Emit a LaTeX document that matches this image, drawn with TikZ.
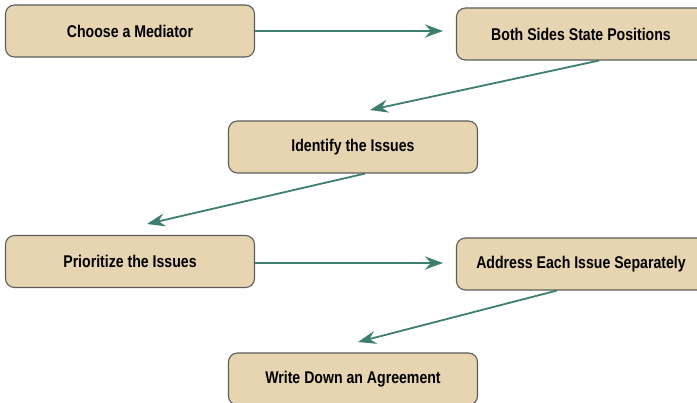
\documentclass[tikz,border=0pt]{standalone}
\usepackage{fontspec}
\setsansfont[FakeStretch=0.83]{Liberation Sans}
\usetikzlibrary{arrows.meta,positioning,calc}

\definecolor{boxfill}{HTML}{E6D5B0}
\definecolor{boxline}{HTML}{5C5C5C}
\definecolor{arrowteal}{HTML}{3E7E70}

\begin{document}
\begin{tikzpicture}[
    x=1pt, y=-1pt,
    stepbox/.style={draw=boxline, line width=1.1pt, rectangle, rounded corners=9pt, fill=boxfill,
        minimum width=249pt, minimum height=52pt, font=\sffamily\bfseries\fontsize{17}{19}\selectfont},
    edge/.style={-{Stealth[length=18pt, width=13pt, inset=6pt]}, line width=2.6pt, draw=arrowteal},
    slant/.style={edge, line width=1.8pt},
]
\useasboundingbox (0,0) rectangle (697,403);

% Steps
\node[stepbox] (mediator) at (130, 31) {Choose a Mediator};
\node[stepbox] (positions) at (581, 34) {Both Sides State Positions};
\node[stepbox] (identify) at (353, 147) {Identify the Issues};
\node[stepbox] (prioritize) at (130, 261.5) {Prioritize the Issues};
\node[stepbox] (address) at (581, 264) {Address Each Issue Separately};
\node[stepbox] (agreement) at (353, 379) {Write Down an Agreement};

% Arrow tips
\coordinate (tipA) at (443, 31);
\coordinate (tipB) at (370, 110);
\coordinate (tipC) at (147, 224);
\coordinate (tipD) at (443, 263);
\coordinate (tipE) at (358, 342);

\draw[edge] (mediator.east) -- (tipA);
\draw[slant] ([xshift=18pt]positions.south) -- (tipB);
\draw[slant] ([xshift=12pt]identify.south) -- (tipC);
\draw[edge] ([yshift=-1.5pt]prioritize.east) -- (tipD);
\draw[slant] ([xshift=-24pt]address.south) -- (tipE);

\end{tikzpicture}
\end{document}
